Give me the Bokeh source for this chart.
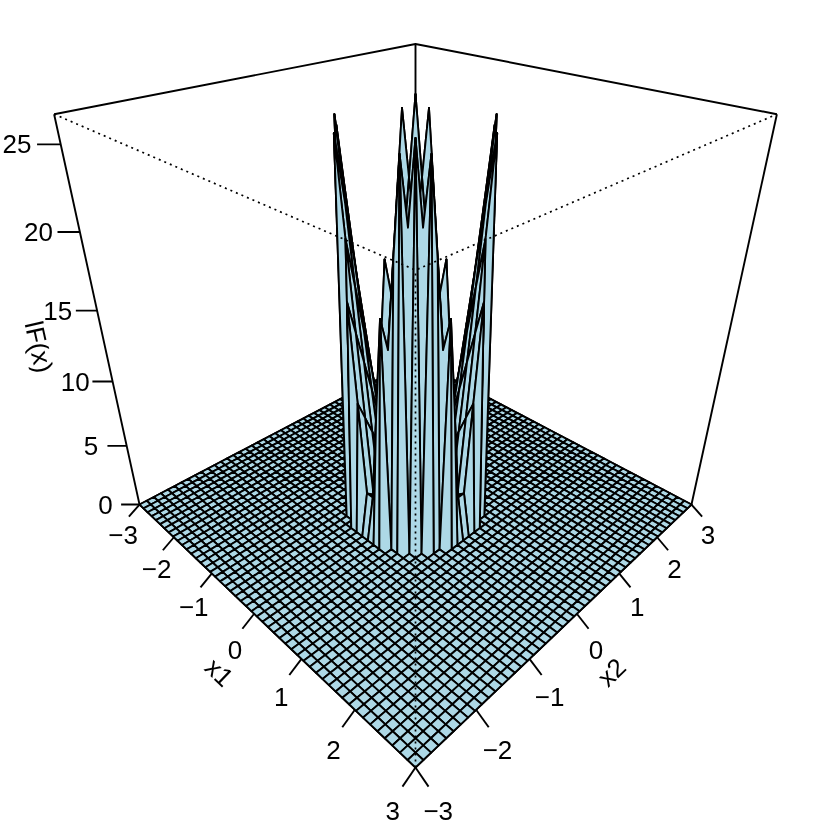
import numpy as np
from bokeh.plotting import figure
from bokeh.models import Range1d
from bokeh.embed import file_html
from bokeh.resources import INLINE
from bokeh.core.properties import value

# ---- data ----
n_grid = 50
x_lim = [-3.0, 3.0]
z_lim = [0.0, 26.6]
x1_ticks = [-3, -2, -1, 0, 1, 2, 3]
x2_ticks = [-3, -2, -1, 0, 1, 2, 3]
z_ticks = [0, 5, 10, 15, 20, 25]
x1_title = "x1"
x2_title = "x2"
z_title = "lF(x)"
# surface heights of the central block, one quadrant (other quadrants mirror it)
z_q1 = [0.22, 0.66, 1.10, 1.54, 1.99, 2.43, 2.87, 3.31]
z_q2 = [0.66, 1.99, 3.31, 4.63, 5.96, 7.28, 8.61, 9.93]
z_q3 = [1.10, 3.31, 5.52, 7.72, 9.93, 12.14, 14.35, 16.55]
z_q4 = [1.54, 4.63, 7.72, 10.81, 13.90, 16.99, 20.08, 0.0]
z_q5 = [1.99, 5.96, 9.93, 13.90, 17.88, 21.85, 25.82, 0.0]
z_q6 = [2.43, 7.28, 12.14, 16.99, 21.85, 26.60, 0.0, 0.0]
z_q7 = [2.87, 8.61, 14.35, 20.08, 25.82, 0.0, 0.0, 0.0]
z_q8 = [3.31, 9.93, 16.55, 0.0, 0.0, 0.0, 0.0, 0.0]

# ---- view of the box ----
SCALE, CX, CY, DIST = 221.3, 415.0, 335.0, 3.732
PHI = np.radians(30)


def project(a, b, z):
    a, b, z = np.asarray(a, float), np.asarray(b, float), np.asarray(z, float)
    xn = a / 3.0
    yn = b / 3.0
    zn = -1 + 2 * (z - z_lim[0]) / (z_lim[1] - z_lim[0])
    h = (xn + yn) / np.sqrt(2)
    f = (xn - yn) / np.sqrt(2)
    Y = zn * np.cos(PHI) - f * np.sin(PHI)
    Zc = zn * np.sin(PHI) + f * np.cos(PHI)
    s = DIST / (DIST - Zc)
    return CX + SCALE * h * s, CY - SCALE * Y * s


quad = np.array([z_q1, z_q2, z_q3, z_q4, z_q5, z_q6, z_q7, z_q8])
block = np.block([[quad[::-1, ::-1], quad[::-1, :]], [quad[:, ::-1], quad]])
Z = np.zeros((n_grid, n_grid))
Z[17:33, 17:33] = block
gx = np.linspace(x_lim[0], x_lim[1], n_grid)

p = figure(width=830, height=830, output_backend="svg", toolbar_location=None,
           x_range=Range1d(0, 830), y_range=Range1d(830, 0), min_border=0,
           outline_line_color=None, styles={"position": "fixed", "left": "0px", "top": "0px"})
p.axis.visible = False
p.grid.visible = False
p.background_fill_color = "white"

LW = 1.9


def seg(pts, **kw):
    xs, ys = project(*zip(*pts))
    p.line(list(xs), list(ys), line_color="black", line_join="round", **kw)


lo, hi, zl, zh = -3, 3, z_lim[0], z_lim[1]
# back and bottom edges of the box
seg([(lo, lo, zh), (lo, hi, zh), (hi, hi, zh)], line_width=LW)
seg([(lo, hi, zl), (lo, hi, zh)], line_width=LW)
seg([(lo, lo, zl), (lo, lo, zh)], line_width=LW)
seg([(hi, hi, zl), (hi, hi, zh)], line_width=LW)
seg([(lo, lo, zl), (hi, lo, zl), (hi, hi, zl), (lo, hi, zl), (lo, lo, zl)], line_width=LW)

# surface, back to front
fx, fy = [], []
for i in range(n_grid - 1):
    for j in range(n_grid - 1, 0, -1):
        a = [gx[i], gx[i + 1], gx[i + 1], gx[i]]
        b = [gx[j], gx[j], gx[j - 1], gx[j - 1]]
        c = [Z[i, j], Z[i + 1, j], Z[i + 1, j - 1], Z[i, j - 1]]
        u, v = project(a, b, c)
        fx.append(list(u))
        fy.append(list(v))
p.patches(fx, fy, fill_color="#ADD8E6", line_color="black", line_width=LW, line_join="round")

# hidden front edges of the box, dotted
for pts in ([(lo, lo, zh), (hi, lo, zh), (hi, hi, zh)], [(hi, lo, zl), (hi, lo, zh)]):
    seg(pts, line_width=1.7, line_dash="2 4")

# axes
D = 0.2
DZ = 0.53
LA, LB = 1.75, 3.3
FONT = value("Liberation Sans")
tx, ty, tt, ta = [], [], [], []


def label(u, v, s, ang=0.0):
    tx.append(float(u))
    ty.append(float(v))
    tt.append(s)
    ta.append(np.radians(ang))


def lab(t):
    return str(t).replace("-", "\u2212")


for t in x1_ticks:
    u, v = project([t, t], [lo, lo - D], [zl, zl - DZ])
    p.line(list(u), list(v), line_color="black", line_width=LW)
    lu, lv = project(t, lo - LA * D, zl - LB * DZ)
    label(lu, lv, lab(t))
for t in x2_ticks:
    u, v = project([hi, hi + D], [t, t], [zl, zl - DZ])
    p.line(list(u), list(v), line_color="black", line_width=LW)
    lu, lv = project(hi + LA * D, t, zl - LB * DZ)
    label(lu, lv, lab(t))
for t in z_ticks:
    u, v = project([lo, lo - D], [lo, lo - D], [t, t])
    p.line(list(u), list(v), line_color="black", line_width=LW)
    lu, lv = project(lo - 1.85 * D, lo - 1.85 * D, t)
    label(lu, lv, lab(t))

lu, lv = project(0, lo - 3.1 * D, zl - 5.0 * DZ)
label(lu, lv, x1_title, -44)
lu, lv = project(hi + 3.1 * D, 0, zl - 5.0 * DZ)
label(lu, lv, x2_title, 44)
lu, lv = project(lo - 3.2 * D, lo - 3.2 * D, 12.5)
label(lu, lv, z_title, -77.5)

p.text(x=tx, y=ty, text=tt, angle=ta, text_font=FONT, text_font_size=value("26px"),
       text_align="center", text_baseline="middle", text_color="black")

open("out.html", "w").write(file_html(p, INLINE))
